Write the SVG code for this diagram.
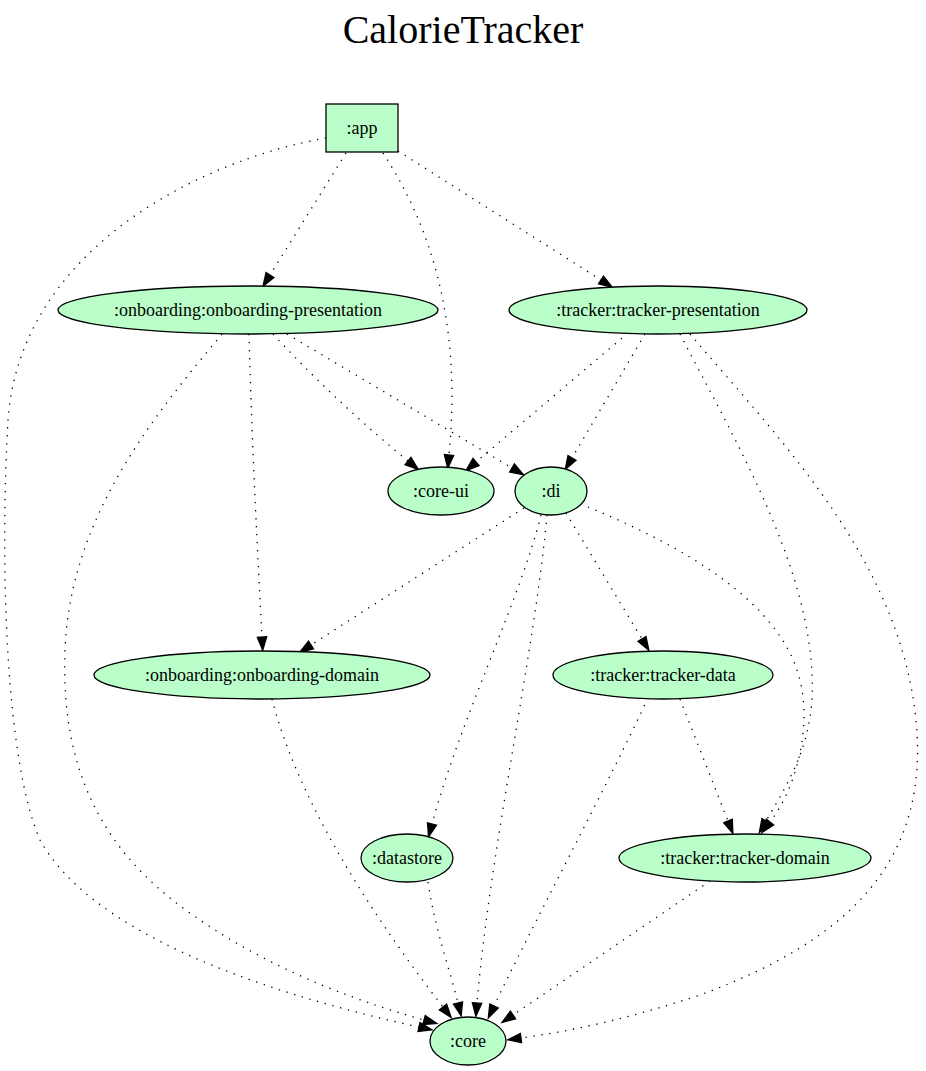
<svg xmlns="http://www.w3.org/2000/svg" width="926" height="1071" viewBox="0 0 926 1071">
<style>
.node ellipse, .node rect { fill: #baffc9; stroke: #000; stroke-width: 1.3; }
.node text { font-family: "Liberation Serif", "Times New Roman", serif; font-size: 18px; text-anchor: middle; fill: #000; }
.title { font-family: "Liberation Serif", "Times New Roman", serif; font-size: 40px; text-anchor: middle; fill: #000; }
.edges path { fill: none; stroke: #000; stroke-width: 1.3; stroke-dasharray: 1.3 6.7; marker-end: url(#arr); }
</style>
<defs>
<marker id="arr" markerUnits="userSpaceOnUse" markerWidth="16" markerHeight="12" refX="0" refY="4.67" orient="auto" overflow="visible">
<path d="M0,0 L13.3,4.67 L0,9.33 Z" fill="#000" stroke="#000" stroke-width="1.3" stroke-dasharray="none"/>
</marker>
</defs>
<rect width="926" height="1071" fill="#fff"/>
<text class="title" x="463" y="43">CalorieTracker</text>
<g class="edges" id="edges">
<path d="M346,153 L270,275"/>
<path d="M383,153 C430,225 462,320 449,455"/>
<path d="M398,151 L601,280"/>
<path d="M326,138 C200,160 20,250 8,420 C0,560 5,760 40,840 C90,930 250,990 419,1027"/>
<path d="M273,334 C320,385 370,430 408,461"/>
<path d="M287,334 L512,468"/>
<path d="M249,334 C252,450 258,560 262,637"/>
<path d="M222,334 C150,420 70,520 65,650 C60,780 110,860 200,920 C280,975 370,1005 424,1020"/>
<path d="M628,333 L476,462"/>
<path d="M645,334 L572,458"/>
<path d="M680,334 C740,450 818,580 812,700 C808,750 790,780 766,821"/>
<path d="M690,334 C780,440 900,560 916,720 C930,860 850,940 700,995 C640,1015 580,1030 521,1038"/>
<path d="M524,508 L311,645"/>
<path d="M541,515 C520,600 460,720 432,824"/>
<path d="M547,515 C535,650 490,850 477,1003"/>
<path d="M566,513 L642,639"/>
<path d="M588,507 C680,545 780,600 800,680 C812,730 795,790 770,822"/>
<path d="M272,699 C295,790 360,900 443,1007"/>
<path d="M648,698 C610,780 530,930 494,1006"/>
<path d="M680,699 L728,821"/>
<path d="M428,882 C435,930 450,970 458,1003"/>
<path d="M710,881 L513,1015"/>
</g>
<g class="node" id="app"><rect x="326" y="104" width="72" height="48"/><text x="362" y="134">:app</text></g>
<g class="node" id="onboarding-presentation"><ellipse cx="248" cy="310" rx="190" ry="24"/><text x="248" y="316">:onboarding:onboarding-presentation</text></g>
<g class="node" id="tracker-presentation"><ellipse cx="658" cy="310" rx="149" ry="24"/><text x="658" y="316">:tracker:tracker-presentation</text></g>
<g class="node" id="core-ui"><ellipse cx="441" cy="491" rx="53" ry="24"/><text x="441" y="497">:core-ui</text></g>
<g class="node" id="di"><ellipse cx="551" cy="491" rx="36" ry="24"/><text x="551" y="497">:di</text></g>
<g class="node" id="onboarding-domain"><ellipse cx="262" cy="675" rx="168" ry="24"/><text x="262" y="681">:onboarding:onboarding-domain</text></g>
<g class="node" id="tracker-data"><ellipse cx="663" cy="675" rx="110" ry="24"/><text x="663" y="681">:tracker:tracker-data</text></g>
<g class="node" id="datastore"><ellipse cx="407" cy="858" rx="46" ry="24"/><text x="407" y="864">:datastore</text></g>
<g class="node" id="tracker-domain"><ellipse cx="745" cy="858" rx="126" ry="24"/><text x="745" y="864">:tracker:tracker-domain</text></g>
<g class="node" id="core"><ellipse cx="468" cy="1041" rx="38" ry="24"/><text x="468" y="1047">:core</text></g>
</svg>
